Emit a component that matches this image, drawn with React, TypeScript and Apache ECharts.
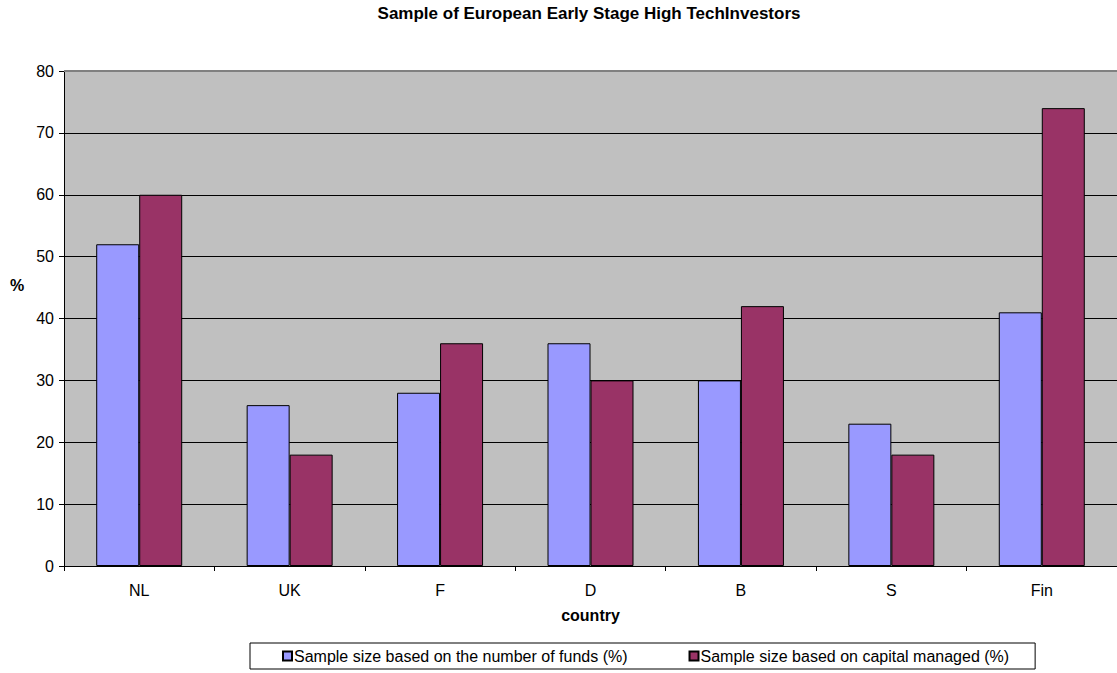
import React, { useEffect, useRef } from "react";
import * as echarts from "echarts";

const categories = ["NL", "UK", "F", "D", "B", "S", "Fin"];
const fundsValues = [52, 26, 28, 36, 30, 23, 41];
const capitalValues = [60, 18, 36, 30, 42, 18, 74];
const seriesNames = [
  "Sample size based on the number of funds (%)",
  "Sample size based on capital managed (%)",
];
const titleText = "Sample of European Early Stage High TechInvestors";

const FONT = "Liberation Sans, Arial, sans-serif";

export default function App() {
  const ref = useRef<HTMLDivElement>(null);
  useEffect(() => {
    if (!ref.current) return;
    const chart = echarts.init(ref.current, null, { renderer: "svg" });
    chart.setOption({
      animation: false,
      backgroundColor: "#ffffff",
      textStyle: { fontFamily: FONT },
      title: {
        text: titleText,
        left: 584,
        textAlign: "center",
        top: 0,
        textStyle: { fontFamily: FONT, fontSize: 17, fontWeight: "bold", color: "#000" },
      },
      grid: { left: 64, right: 0, top: 71, bottom: 107, containLabel: false, show: true, backgroundColor: "#c0c0c0", borderWidth: 0 },
      legend: {
        left: 250,
        top: 643,
        padding: [5, 26, 5, 32],
        orient: "horizontal",
        borderColor: "#000",
        borderWidth: 1,
        backgroundColor: "#fff",
        itemWidth: 9,
        itemHeight: 9,
        itemGap: 61,
        icon: "rect",
        textStyle: { fontFamily: FONT, fontSize: 16, color: "#000", padding: [0, 0, 0, -3] },
        data: seriesNames,
      },
      graphic: [
        {
          type: "text",
          left: 10,
          top: 277,
          style: { text: "%", font: "bold 16px " + FONT, fill: "#000" },
        },
        {
          type: "line",
          z: 100,
          shape: { x1: 64, y1: 71, x2: 1117, y2: 71 },
          style: { stroke: "#808080", lineWidth: 2 },
        },
      ],
      xAxis: {
        type: "category",
        data: categories,
        name: "country",
        nameLocation: "middle",
        nameGap: 41,
        nameTextStyle: { fontFamily: FONT, fontSize: 16, fontWeight: "bold", color: "#000" },
        axisLine: { show: true, lineStyle: { color: "#000", width: 1 } },
        axisTick: { show: true, alignWithLabel: false, length: 5, lineStyle: { color: "#000" } },
        axisLabel: { fontFamily: FONT, fontSize: 16, color: "#000", margin: 16 },
        splitLine: { show: false },
      },
      yAxis: {
        type: "value",
        min: 0,
        max: 80,
        interval: 10,
        axisLine: { show: true, lineStyle: { color: "#000", width: 1 } },
        axisTick: { show: true, length: 5, lineStyle: { color: "#000" } },
        axisLabel: { fontFamily: FONT, fontSize: 16, color: "#000", margin: 10 },
        splitLine: { show: true, lineStyle: { color: "#000", width: 1 } },
      },
      series: [
        {
          name: seriesNames[0],
          type: "bar",
          data: fundsValues,
          barWidth: 43,
          barGap: "0%",
          itemStyle: { color: "#9999ff", borderColor: "#000", borderWidth: 1 },
        },
        {
          name: seriesNames[1],
          type: "bar",
          data: capitalValues,
          barWidth: 43,
          barGap: "0%",
          itemStyle: { color: "#993366", borderColor: "#000", borderWidth: 1 },
        },
      ],
    });
    return () => chart.dispose();
  }, []);
  return <div ref={ref} style={{ width: 1117, height: 673, position: "absolute", left: 0, top: 0 }} />;
}
